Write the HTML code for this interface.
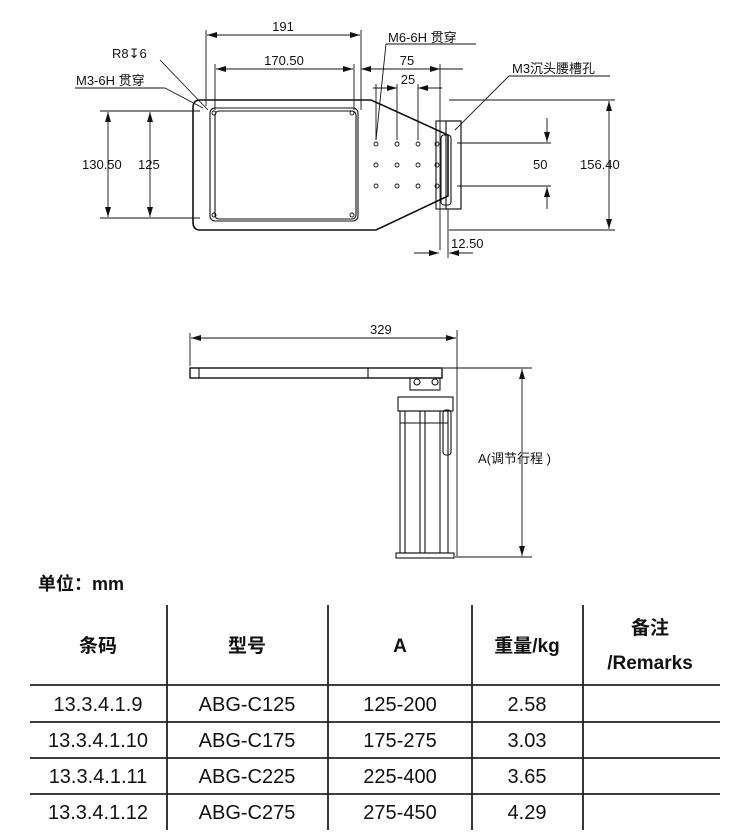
<!DOCTYPE html>
<html><head><meta charset="utf-8"><style>
html,body{margin:0;padding:0;background:#fff;}
svg{display:block;}
text{font-family:"Liberation Sans","Noto Sans CJK SC",sans-serif;fill:#111;}
.b{font-weight:bold;}
</style></head><body>
<svg width="750" height="839" viewBox="0 0 750 839" xmlns="http://www.w3.org/2000/svg">
<defs>
<marker id="a" viewBox="0 0 10 6" refX="10" refY="3" markerWidth="10" markerHeight="6" orient="auto-start-reverse" markerUnits="userSpaceOnUse"><path d="M0,0 L10,3 L0,6z" fill="#111"/></marker>
</defs>
<g stroke="#111" fill="none" stroke-width="1.1">
<path d="M200,100 L371,100 L448,135 L448,196 L376,230 L200,230 Q193,230 193,222 L193,108 Q193,100 200,100Z" stroke-width="1.6"/>
<rect x="210" y="108" width="148" height="113" rx="5"/>
<rect x="215" y="111" width="141" height="108" rx="4"/>
<rect x="436" y="121" width="25" height="88"/>
<rect x="446" y="121" width="15" height="88"/>
<rect x="441" y="135" width="10" height="70" rx="3"/>
<g stroke-width="0.9">
<circle cx="376" cy="144" r="2"/><circle cx="397" cy="144" r="2"/><circle cx="418" cy="144" r="2"/><circle cx="437" cy="144" r="2"/>
<circle cx="376" cy="165" r="2"/><circle cx="397" cy="165" r="2"/><circle cx="418" cy="165" r="2"/><circle cx="437" cy="165" r="2"/>
<circle cx="376" cy="186" r="2"/><circle cx="397" cy="186" r="2"/><circle cx="418" cy="186" r="2"/><circle cx="437" cy="186" r="2"/>
<circle cx="214" cy="113" r="2"/><circle cx="352" cy="113" r="2"/><circle cx="214" cy="215" r="2"/><circle cx="352" cy="215" r="2"/>
</g>
<g stroke-width="0.9">
<line x1="206" y1="30" x2="206" y2="106"/><line x1="361" y1="30" x2="361" y2="110"/>
<line x1="207" y1="35" x2="360" y2="35" marker-start="url(#a)" marker-end="url(#a)"/>
<line x1="215" y1="64" x2="215" y2="110"/><line x1="354" y1="64" x2="354" y2="110"/>
<line x1="216" y1="69" x2="353" y2="69" marker-start="url(#a)" marker-end="url(#a)"/>
<line x1="361" y1="69" x2="440" y2="69" marker-start="url(#a)" marker-end="url(#a)"/>
<line x1="440" y1="69" x2="463" y2="69"/>
<line x1="440" y1="64" x2="440" y2="250"/><line x1="376" y1="84" x2="376" y2="140"/>
<line x1="397" y1="84" x2="397" y2="140"/><line x1="418" y1="84" x2="418" y2="140"/>
<line x1="373" y1="88" x2="397" y2="88" marker-end="url(#a)"/>
<line x1="418" y1="88" x2="442" y2="88" marker-start="url(#a)"/>
<line x1="386" y1="44" x2="476" y2="44"/><line x1="386" y1="44" x2="376" y2="140"/>
<line x1="75" y1="88" x2="165" y2="88"/><line x1="165" y1="88" x2="203" y2="108"/>
<line x1="160" y1="60" x2="208" y2="110"/>
<line x1="509" y1="76" x2="610" y2="76"/><line x1="509" y1="76" x2="455" y2="130"/>
<line x1="100" y1="111" x2="200" y2="111"/><line x1="100" y1="218" x2="200" y2="218"/>
<line x1="108" y1="112" x2="108" y2="217" marker-start="url(#a)" marker-end="url(#a)"/>
<line x1="150" y1="112" x2="150" y2="217" marker-start="url(#a)" marker-end="url(#a)"/>
<line x1="449" y1="100" x2="615" y2="100"/><line x1="449" y1="230" x2="615" y2="230"/>
<line x1="609" y1="101" x2="609" y2="229" marker-start="url(#a)" marker-end="url(#a)"/>
<line x1="457" y1="143" x2="551" y2="143"/><line x1="457" y1="186" x2="551" y2="186"/>
<line x1="547" y1="118" x2="547" y2="142" marker-end="url(#a)"/>
<line x1="547" y1="209" x2="547" y2="187" marker-end="url(#a)"/>
<line x1="448" y1="209" x2="448" y2="258"/>
<line x1="414" y1="253" x2="439" y2="253" marker-end="url(#a)"/>
<line x1="473" y1="253" x2="449" y2="253" marker-end="url(#a)"/>
</g>
<rect x="190" y="368" width="252" height="10" stroke-width="1.4"/>
<line x1="199" y1="368" x2="199" y2="378"/><line x1="368" y1="368" x2="368" y2="378"/>
<rect x="410" y="378" width="30" height="12"/>
<circle cx="417" cy="382" r="3"/><circle cx="435" cy="382" r="3"/>
<rect x="398" y="397" width="55" height="14"/>
<rect x="400" y="411" width="48" height="142"/>
<line x1="405" y1="411" x2="405" y2="553"/><line x1="420" y1="411" x2="420" y2="553"/><line x1="425" y1="411" x2="425" y2="553"/><line x1="440" y1="411" x2="440" y2="553"/>
<line x1="400" y1="423" x2="448" y2="423"/>
<rect x="443" y="410" width="8" height="45" rx="3"/>
<rect x="396" y="553" width="58" height="5"/>
<g stroke-width="0.9">
<line x1="190" y1="333" x2="190" y2="366"/><line x1="457" y1="330" x2="457" y2="556"/>
<line x1="191" y1="338" x2="456" y2="338" marker-start="url(#a)" marker-end="url(#a)"/>
<line x1="443" y1="368" x2="532" y2="368"/><line x1="455" y1="557" x2="532" y2="557"/>
<line x1="522" y1="369" x2="522" y2="556" marker-start="url(#a)" marker-end="url(#a)"/>
</g>
<g stroke="#222" stroke-width="1.8">
<line x1="167" y1="605" x2="167" y2="830"/><line x1="328" y1="605" x2="328" y2="830"/>
<line x1="472" y1="605" x2="472" y2="830"/><line x1="583" y1="605" x2="583" y2="830"/>
<line x1="30" y1="685" x2="720" y2="685"/><line x1="30" y1="722" x2="720" y2="722"/>
<line x1="30" y1="758" x2="720" y2="758"/><line x1="30" y1="794" x2="720" y2="794"/>
</g>
</g>
<g font-size="13">
<text x="283" y="31" text-anchor="middle">191</text>
<text x="284" y="65" text-anchor="middle">170.50</text>
<text x="407" y="65" text-anchor="middle">75</text>
<text x="408" y="84" text-anchor="middle">25</text>
<text x="388" y="42">M6-6H 贯穿</text>
<text x="112" y="58">R8↧6</text>
<text x="76" y="85">M3-6H 贯穿</text>
<text x="512" y="73">M3沉头腰槽孔</text>
<text x="82" y="169">130.50</text>
<text x="138" y="169">125</text>
<text x="533" y="169">50</text>
<text x="580" y="169">156.40</text>
<text x="451" y="248">12.50</text>
<text x="370" y="334">329</text>
<text x="478" y="463">A(调节行程 )</text>
</g>
<text x="38" y="590" font-size="18" class="b">单位：mm</text>
<g font-size="19" class="b" text-anchor="middle">
<text x="98" y="652">条码</text><text x="247" y="652">型号</text><text x="400" y="652">A</text>
<text x="527" y="652">重量/kg</text><text x="650" y="634">备注</text><text x="650" y="669">/Remarks</text>
</g>
<g font-size="20" text-anchor="middle">
<text x="98" y="711">13.3.4.1.9</text><text x="247" y="711">ABG-C125</text><text x="400" y="711">125-200</text><text x="527" y="711">2.58</text>
<text x="98" y="747">13.3.4.1.10</text><text x="247" y="747">ABG-C175</text><text x="400" y="747">175-275</text><text x="527" y="747">3.03</text>
<text x="98" y="783">13.3.4.1.11</text><text x="247" y="783">ABG-C225</text><text x="400" y="783">225-400</text><text x="527" y="783">3.65</text>
<text x="98" y="819">13.3.4.1.12</text><text x="247" y="819">ABG-C275</text><text x="400" y="819">275-450</text><text x="527" y="819">4.29</text>
</g>
</svg>
</body></html>
